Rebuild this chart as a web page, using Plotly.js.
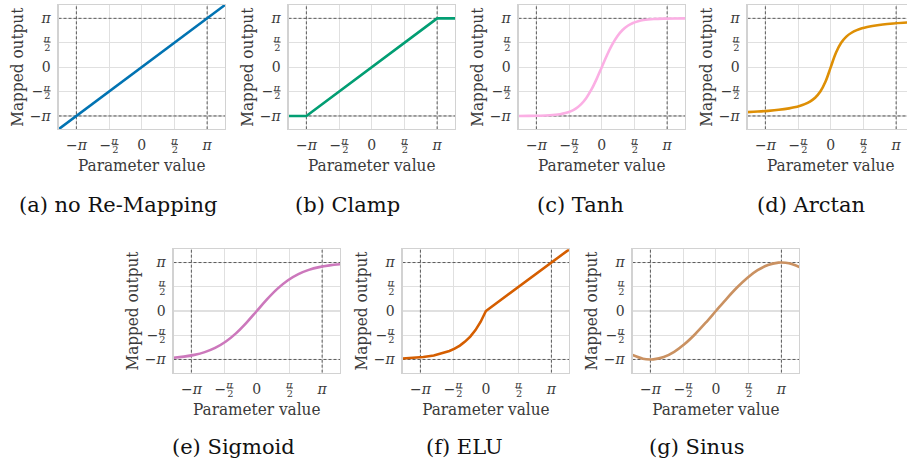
<!DOCTYPE html>
<html>
<head>
<meta charset="utf-8">
<script src="https://cdn.plot.ly/plotly-3.0.1.min.js"></script>
<style>
  html, body { margin: 0; padding: 0; overflow: hidden; background: #fff; }
  #chart { width: 920px; height: 466px; }
</style>
</head>
<body>
<div id="chart"></div>
<script>
const PI = Math.PI;

// ---- data ----
const captions = ["(a) no Re-Mapping", "(b) Clamp", "(c) Tanh", "(d) Arctan", "(e) Sigmoid", "(f) ELU", "(g) Sinus"];

const xLinear = [-4, 4];
const yLinear = [-4, 4];

const xClamp = [-4, -3.1416, 3.1416, 4];
const yClamp = [-3.1416, -3.1416, 3.1416, 3.1416];

const xFine = [-4, -3.5, -3, -2.5, -2, -1.75, -1.5, -1.25, -1, -0.75, -0.5, -0.25, 0,
               0.25, 0.5, 0.75, 1, 1.25, 1.5, 1.75, 2, 2.5, 3, 3.5, 4];
const yTanh = [-3.1395, -3.1359, -3.1261, -3.0995, -3.0286, -2.9574, -2.8436, -2.6649, -2.3926, -1.9954, -1.4518, -0.7694, 0,
               0.7694, 1.4518, 1.9954, 2.3926, 2.6649, 2.8436, 2.9574, 3.0286, 3.0995, 3.1261, 3.1359, 3.1395];
const yArctan = [-2.8929, -2.8578, -2.8112, -2.7468, -2.6516, -2.5850, -2.4981, -2.3806, -2.2143, -1.9656, -1.5708, -0.9273, 0,
                 0.9273, 1.5708, 1.9656, 2.2143, 2.3806, 2.4981, 2.5850, 2.6516, 2.7468, 2.8112, 2.8578, 2.8929];

const xHalf = [-4, -3.5, -3, -2.5, -2, -1.5, -1, -0.5, 0, 0.5, 1, 1.5, 2, 2.5, 3, 3.5, 4];
const ySigmoid = [-3.0286, -2.9574, -2.8436, -2.6649, -2.3926, -1.9954, -1.4518, -0.7694, 0,
                  0.7694, 1.4518, 1.9954, 2.3926, 2.6649, 2.8436, 2.9574, 3.0286];

const xElu = [-4, -3.5, -3, -2.5, -2, -1.75, -1.5, -1.25, -1, -0.75, -0.5, -0.25, 0, 4];
const yElu = [-3.0840, -3.0467, -2.9852, -2.8837, -2.7164, -2.5956, -2.4406, -2.2415, -1.9858, -1.6576, -1.2361, -0.6949, 0, 4];

const xSinus = [-4, -3.5, -3.1416, -3, -2.5, -2, -1.5, -1, -0.5, 0, 0.5, 1, 1.5, 2, 2.5, 3, 3.1416, 3.5, 4];
const ySinus = [-2.8566, -3.0913, -3.1416, -3.1337, -2.9814, -2.6436, -2.1414, -1.5061, -0.7773, 0,
                0.7773, 1.5061, 2.1414, 2.6436, 2.9814, 3.1337, 3.1416, 3.0913, 2.8566];

const axisRange = [-4, 4];
const tickVals = [-PI, -PI / 2, 0, PI / 2, PI];
const FRAC = "<sup><i>π</i></sup><span style='letter-spacing:-10px'>\u00A0</span><sub><span style='text-decoration:overline'>2</span></sub>";
const tickLabels = ["−<i>π</i>", "−" + FRAC, "0", FRAC, "<i>π</i>"];
const refLines = [-PI, PI];

const seriesX = [xLinear, xClamp, xFine, xFine, xHalf, xElu, xSinus];
const seriesY = [yLinear, yClamp, yTanh, yArctan, ySigmoid, yElu, ySinus];
const colors = ["#0173B2", "#029E73", "#FBAFE4", "#DE8F05", "#CC78BC", "#D55E00", "#CA9161"];
const shapesKind = ["linear", "linear", "spline", "spline", "spline", "linear", "spline"];

// ---- layout (pixel boxes of each panel) ----
const W = 920, H = 466;
const boxes = [
  [58.5, 225, 5, 129.3], [288.5, 455, 5, 129.3], [518.5, 685, 5, 129.3], [747.5, 914, 5, 129.3],
  [173.5, 340, 249.3, 372.7], [402.5, 569.3, 249.3, 372.7], [632.5, 799.3, 249.3, 372.7]
];
const capPos = [[118, 205], [347, 205], [580, 205], [811, 205], [234, 447], [464, 447], [696, 447]];

const FONT = "DejaVu Serif";
const FONT_TITLE = "DejaVu Serif Condensed";
const TEXT = "#3a3a3a";
const traces = [];
const layout = {
  width: W, height: H,
  margin: {l: 0, r: 0, t: 0, b: 0},
  paper_bgcolor: "#fff", plot_bgcolor: "#fff",
  showlegend: false,
  font: {family: FONT, color: TEXT, size: 14},
  annotations: []
};

boxes.forEach((b, i) => {
  const n = i === 0 ? "" : String(i + 1);
  const dash = {color: "#5a5a5a", width: 1, dash: "3px,2px"};
  refLines.forEach(v => {
    traces.push({type: "scatter", mode: "lines", x: [v, v], y: axisRange, xaxis: "x" + n, yaxis: "y" + n,
      line: dash, hoverinfo: "skip"});
    traces.push({type: "scatter", mode: "lines", x: axisRange, y: [v, v], xaxis: "x" + n, yaxis: "y" + n,
      line: dash, hoverinfo: "skip"});
  });
  traces.push({
    type: "scatter", mode: "lines",
    x: seriesX[i], y: seriesY[i],
    xaxis: "x" + n, yaxis: "y" + n,
    line: {color: colors[i], width: 2.6, shape: shapesKind[i], smoothing: 1},
    hoverinfo: "skip"
  });
  const common = {
    range: axisRange, tickmode: "array", tickvals: tickVals, ticktext: tickLabels,
    showgrid: true, gridcolor: "#e0e0e0", gridwidth: 1.1, zeroline: false,
    showline: true, mirror: true, linecolor: "#d2d2d2", linewidth: 1.1,
    ticks: "", tickfont: {family: FONT, size: 14, color: TEXT}, fixedrange: true
  };
  layout["xaxis" + n] = Object.assign({}, common, {
    domain: [b[0] / W, b[1] / W], anchor: "y" + n,
    ticklabelstandoff: 3,
    title: {text: "Parameter value", font: {family: FONT_TITLE, size: 17, color: TEXT}, standoff: 0}
  });
  layout["yaxis" + n] = Object.assign({}, common, {
    domain: [1 - b[3] / H, 1 - b[2] / H], anchor: "x" + n,
    ticklabelstandoff: 4,
    title: {text: "Mapped output", font: {family: FONT_TITLE, size: 17, color: TEXT}, standoff: 1}
  });
  layout.annotations.push({
    xref: "paper", yref: "paper", x: capPos[i][0] / W, y: 1 - capPos[i][1] / H,
    xanchor: "center", yanchor: "middle", showarrow: false,
    text: captions[i], font: {family: FONT, size: 21, color: "#111"}
  });
});

Plotly.newPlot("chart", traces, layout, {staticPlot: true, displayModeBar: false});
</script>
</body>
</html>
